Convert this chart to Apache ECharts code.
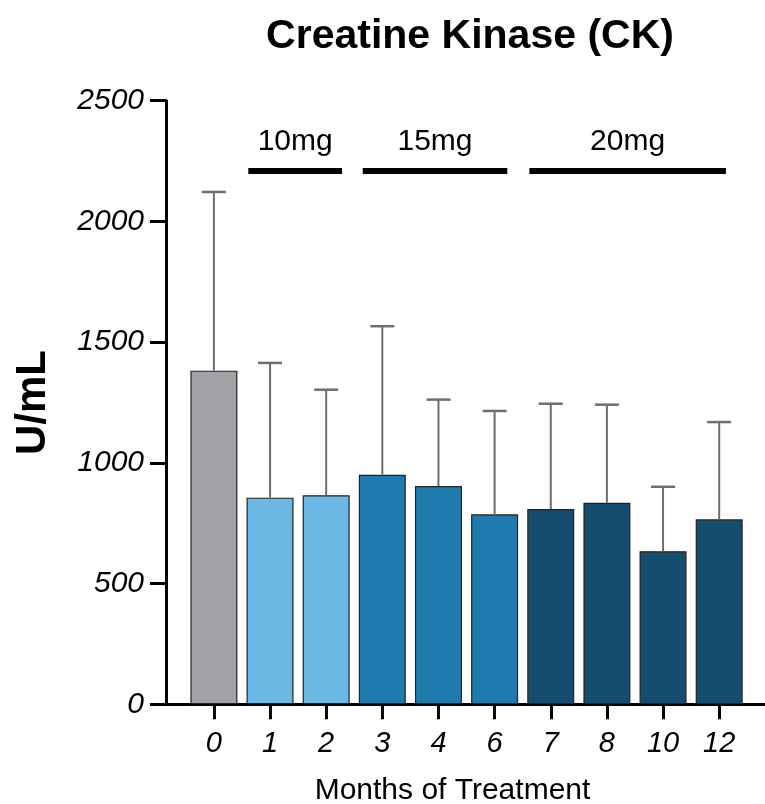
<!DOCTYPE html>
<html>
<head>
<meta charset="utf-8">
<script src="https://cdn.jsdelivr.net/npm/echarts@6/dist/echarts.min.js"></script>
<style>html,body{margin:0;padding:0;background:#fff}#c{width:765px;height:804px}</style>
</head>
<body>
<div id="c"></div>
<script>
// ---- data ----
const months = ['0', '1', '2', '3', '4', '6', '7', '8', '10', '12'];
const meanCK = [1382, 856, 866, 951, 904, 787, 809, 835, 634, 766];
const upperCK = [2122, 1414, 1303, 1566, 1262, 1215, 1245, 1241, 901, 1169];
const doseGroup = ['baseline', '10mg', '10mg', '15mg', '15mg', '15mg', '20mg', '20mg', '20mg', '20mg'];
const doseLabels = ['10mg', '15mg', '20mg'];
const doseStart = [0.613, 2.651, 5.618];
const doseEnd = [2.282, 5.226, 9.12];
const doseLevel = 2209;
const yTicks = [0, 500, 1000, 1500, 2000, 2500];

// ---- styles ----
const FONT = '"Liberation Sans", Arial, Helvetica, sans-serif';
const groupColor = { baseline: '#A2A1A6', '10mg': '#6BB8E4', '15mg': '#1F7BAE', '20mg': '#154D6E' };
const idx = months.map((m, i) => i);

const chart = echarts.init(document.getElementById('c'), null, { renderer: 'canvas' });
chart.setOption({
  animation: false,
  backgroundColor: '#fff',
  title: {
    text: 'Creatine Kinase (CK)',
    left: 465,
    top: 11,
    textAlign: 'center',
    textStyle: { fontFamily: FONT, fontSize: 41, fontWeight: 'bold', color: '#000' }
  },
  grid: { left: 166, right: 0, top: 100.7, bottom: 99.7, containLabel: false, outerBoundsMode: 'none' },
  xAxis: {
    type: 'value',
    min: -0.853,
    max: 9.816,
    splitLine: { show: false },
    axisLine: { onZero: true, lineStyle: { color: '#000', width: 3 } },
    axisTick: { show: true, length: 15, lineStyle: { color: '#000', width: 3 }, customValues: idx },
    axisLabel: {
      customValues: idx,
      formatter: v => months[Math.round(v)],
      fontFamily: FONT, fontSize: 29, fontStyle: 'italic', color: '#000', margin: 25
    },
    name: 'Months of Treatment',
    nameLocation: 'middle',
    nameGap: 71,
    nameTextStyle: { fontFamily: FONT, fontSize: 30, color: '#000', padding: [0, 26, 0, 0] }
  },
  yAxis: {
    type: 'value',
    min: 0,
    max: 2500,
    interval: 500,
    splitLine: { show: false },
    axisLine: { show: true, onZero: false, lineStyle: { color: '#000', width: 3 } },
    axisTick: { show: true, length: 16, lineStyle: { color: '#000', width: 3 } },
    axisLabel: {
      formatter: v => yTicks.includes(v) ? String(v) : '',
      fontFamily: FONT, fontSize: 30, fontStyle: 'italic', color: '#000', margin: 22
    },
    name: 'U/mL',
    nameLocation: 'middle',
    nameGap: 112,
    nameTextStyle: { fontFamily: FONT, fontSize: 42, fontWeight: 'bold', color: '#000' }
  },
  series: [
    {
      type: 'bar',
      barWidth: 47,
      data: idx.map(i => ({
        value: [i, meanCK[i]],
        itemStyle: { color: groupColor[doseGroup[i]], borderColor: '#222', borderWidth: 1.2 }
      })),
      z: 2
    },
    {
      type: 'custom',
      z: 3,
      data: idx.map(i => [i, meanCK[i], upperCK[i]]),
      renderItem: (params, api) => {
        const base = api.coord([api.value(0), api.value(1)]);
        const top = api.coord([api.value(0), api.value(2)]);
        const st = { stroke: '#6E6E6E', lineWidth: 2 };
        return {
          type: 'group',
          children: [
            { type: 'line', shape: { x1: base[0], y1: base[1], x2: top[0], y2: top[1] }, style: st },
            { type: 'line', shape: { x1: top[0] - 12, y1: top[1], x2: top[0] + 12, y2: top[1] }, style: Object.assign({}, st, { lineWidth: 2.5 }) }
          ]
        };
      }
    },
    {
      type: 'custom',
      z: 4,
      data: doseLabels.map((l, k) => [doseStart[k], doseEnd[k], doseLevel, l]),
      renderItem: (params, api) => {
        const a = api.coord([api.value(0), api.value(2)]);
        const b = api.coord([api.value(1), api.value(2)]);
        const label = doseLabels[params.dataIndex];
        return {
          type: 'group',
          children: [
            { type: 'line', shape: { x1: a[0], y1: a[1], x2: b[0], y2: b[1] }, style: { stroke: '#000', lineWidth: 6 } },
            { type: 'text', x: (a[0] + b[0]) / 2, y: a[1] - 29,
              style: { text: label, fontFamily: FONT, fontSize: 30, fill: '#000', align: 'center', verticalAlign: 'middle' } }
          ]
        };
      }
    }
  ]
});
</script>
</body>
</html>
